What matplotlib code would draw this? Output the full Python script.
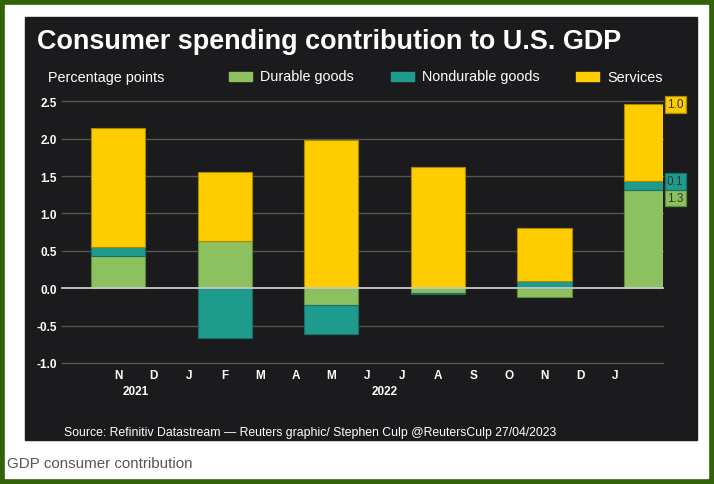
import numpy as np
import matplotlib.pyplot as plt
from matplotlib.patches import Rectangle

plt.rcParams['font.family'] = ['Liberation Sans', 'DejaVu Sans']

# quarterly contributions to GDP (percentage points)
quarters = ['Q4 2021', 'Q1 2022', 'Q2 2022', 'Q3 2022', 'Q4 2022', 'Q1 2023']
durable = [0.43, 0.63, -0.23, -0.06, -0.12, 1.32]
nondurable = [0.12, -0.66, -0.38, -0.02, 0.09, 0.12]
services = [1.59, 0.93, 1.98, 1.62, 0.72, 1.02]

series_names = ['Durable goods', 'Nondurable goods', 'Services']
month_labels = ['N', 'D', 'J', 'F', 'M', 'A', 'M', 'J', 'J', 'A', 'S', 'O', 'N', 'D', 'J']
year_labels = ['2021', '2022']
last_labels = ['1.3', '0.1', '1.0']
yticks = [-1.0, -0.5, 0.0, 0.5, 1.0, 1.5, 2.0, 2.5]

GREEN = '#8dc15f'
TEAL = '#1f9b8e'
YELLOW = '#ffcc00'
EDGES = ['#5e8a3c', '#157066', '#a88a00']
BORDER = '#336309'
PANEL = '#1b1b1d'

W, H = 714, 485

fig = plt.figure(figsize=(W / 100, H / 100), dpi=100, facecolor=BORDER)
fig.add_artist(Rectangle((5 / W, 1 - 479 / H), 703 / W, 473 / H,
                         transform=fig.transFigure, color='white', zorder=0))
fig.add_artist(Rectangle((25 / W, 1 - 441 / H), 672 / W, 423 / H,
                         transform=fig.transFigure, color=PANEL, zorder=0))

ax = fig.add_axes([61.5 / W, 1 - 364 / H, 601 / W, 261.7 / H])
ax.set_facecolor('none')
for s in ax.spines.values():
    s.set_visible(False)

# bars sit on the middle month of each quarter (month 0 = Nov 2021)
bar_x = np.arange(len(quarters)) * 3
data = np.array([durable, nondurable, services])
pos_base = np.zeros(len(quarters))
neg_base = np.zeros(len(quarters))
colors = [GREEN, TEAL, YELLOW]
for vals, c, ec in zip(data, colors, EDGES):
    bottoms = np.where(vals >= 0, pos_base, neg_base)
    ax.bar(bar_x, vals, width=1.52, bottom=bottoms, color=c, edgecolor=ec,
           linewidth=0.8, zorder=3)
    pos_base = pos_base + np.clip(vals, 0, None)
    neg_base = neg_base + np.clip(vals, None, 0)

for y in yticks:
    if y == 0:
        ax.axhline(y, color='#c9c9c9', lw=1.3, zorder=4, clip_on=False)
    else:
        ax.axhline(y, color='#555555', lw=1.0, zorder=1, clip_on=False)

ax.set_ylim(-1.0, 2.5)
ax.set_xlim(-1.59, 15.32)
ax.set_yticks(yticks)
ax.set_yticklabels([f'{v:.1f}' for v in yticks], fontweight='bold')
ax.set_xticks(range(len(month_labels)))
ax.set_xticklabels(month_labels, fontweight='bold')
ax.tick_params(axis='y', length=0, pad=3.3, colors='white', labelsize=8.5)
ax.tick_params(axis='x', length=0, pad=4, colors='white', labelsize=8.5)

# year labels centred under that year's months
month_years = [2021 + (10 + i) // 12 for i in range(len(month_labels))]
for yl in year_labels:
    idx = [i for i, yr in enumerate(month_years) if str(yr) == yl]
    ax.annotate(yl, xy=(np.mean(idx), 0), xycoords=('data', 'axes fraction'),
                xytext=(0, -20.5), textcoords='offset points', ha='center',
                va='center', color='white', fontsize=8.5, fontweight='bold')

# value labels for the latest quarter
last = data[:, -1]
tops = np.cumsum(last)
label_y = [tops[1], tops[1], tops[2]]
label_off = [-12.3, -0.5, 0]
for txt, yv, off, c, ec in zip(last_labels, label_y, label_off, colors, EDGES):
    ax.annotate(txt, xy=(1, yv), xycoords=('axes fraction', 'data'),
                xytext=(3.2, off), textcoords='offset points', ha='left',
                va='center', fontsize=8.5, color='#333333', annotation_clip=False,
                bbox=dict(boxstyle='square,pad=0.2', fc=c, ec=ec, lw=0.9))

# legend drawn by hand
leg_patch_x = [229, 391, 576]
for name, c, px in zip(series_names, colors, leg_patch_x):
    fig.add_artist(Rectangle((px / W, 1 - 82 / H), 23 / W, 9.5 / H,
                             transform=fig.transFigure, color=c))
    fig.text((px + 31) / W, 1 - 77.5 / H, name, color='white', fontsize=10.4,
             va='center', ha='left')

fig.text(37 / W, 1 - 42 / H, 'Consumer spending contribution to U.S. GDP',
         color='white', fontsize=19.45, fontweight='bold', va='center')
fig.text(48 / W, 1 - 78 / H, 'Percentage points', color='white', fontsize=10.4,
         va='center')
fig.text(64 / W, 1 - 433 / H,
         'Source: Refinitiv Datastream \u2014 Reuters graphic/ Stephen Culp '
         '@ReutersCulp 27/04/2023', color='white', fontsize=8.85, va='center')
fig.text(7 / W, 1 - 464 / H, 'GDP consumer contribution', color='#555555',
         fontsize=10.9, va='center')

fig.savefig('out.png', dpi=100, facecolor=BORDER)
